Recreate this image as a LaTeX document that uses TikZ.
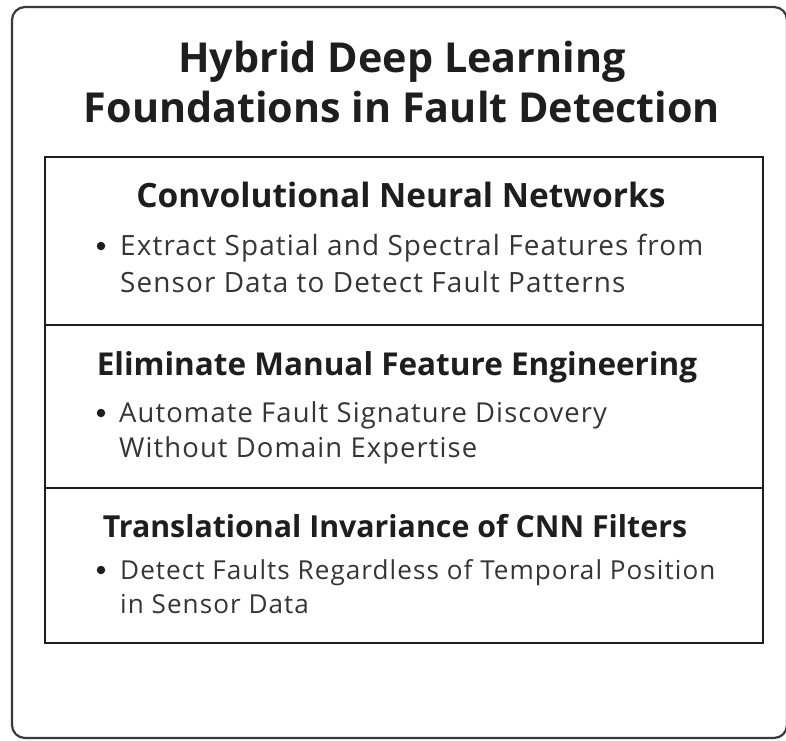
\documentclass[tikz,border=0pt]{standalone}
\usepackage{fontspec}
\setmainfont{Open Sans}
\definecolor{ink}{HTML}{1E1E1E}
\definecolor{frame}{HTML}{3A3A3A}
\begin{document}
\begin{tikzpicture}[x=1pt,y=-1pt,
  titletext/.style={font=\fontsize{41.3}{45}\selectfont\bfseries, text=ink, anchor=base, inner sep=0pt},
  headtext/.style={font=\fontsize{#1}{#1}\selectfont\bfseries, text=ink, anchor=base, inner sep=0pt},
  bodytext/.style={font=\fontsize{#1}{#1}\selectfont\addfontfeature{LetterSpace=4}, text=ink!90, anchor=base west, inner sep=0pt},
  bulletdot/.style={circle, fill=ink, inner sep=0pt, minimum size=8.5pt},
  panel/.style={draw=ink, line width=2.6pt},
  divider/.style={draw=ink, line width=2.6pt}
]
\useasboundingbox (0,0) rectangle (786,740);
% outer rounded frame (its right side runs along the page edge)
\draw[frame, line width=2.2pt, rounded corners=13pt] (12,7) rectangle (787,738);

% title
\node[titletext] (t1) at (402,72) {Hybrid Deep Learning};
\node[titletext] (t2) at (402,122) {Foundations in Fault Detection};

% framed list of three sections
\draw[panel] (45,157) rectangle (763,643);
\coordinate (d1l) at (45,325); \coordinate (d1r) at (763,325);
\coordinate (d2l) at (45,488); \coordinate (d2r) at (763,488);
\draw[divider] (d1l) -- (d1r);
\draw[divider] (d2l) -- (d2r);

% section 1
\node[headtext=33.5] (h1) at (401,207) {Convolutional Neural Networks};
\node[bulletdot] (b1) at (101,246) {};
\node[bodytext=27.9] (s1a) at (120,255) {Extract Spatial and Spectral Features from};
\node[bodytext=27.9] (s1b) at (120,292) {Sensor Data to Detect Fault Patterns};

% section 2
\node[headtext=31.5] (h2) at (397,375) {Eliminate Manual Feature Engineering};
\node[bulletdot] (b2) at (101,413) {};
\node[bodytext=27.4] (s2a) at (119,422) {Automate Fault Signature Discovery};
\node[bodytext=27.4] (s2b) at (119,457) {Without Domain Expertise};

% section 3
\node[headtext=30.3] (h3) at (395,537) {Translational Invariance of CNN Filters};
\node[bulletdot] (b3) at (101,570) {};
\node[bodytext=26.1] (s3a) at (120,579) {Detect Faults Regardless of Temporal Position};
\node[bodytext=26.1] (s3b) at (120,613) {in Sensor Data};
\end{tikzpicture}
\end{document}
